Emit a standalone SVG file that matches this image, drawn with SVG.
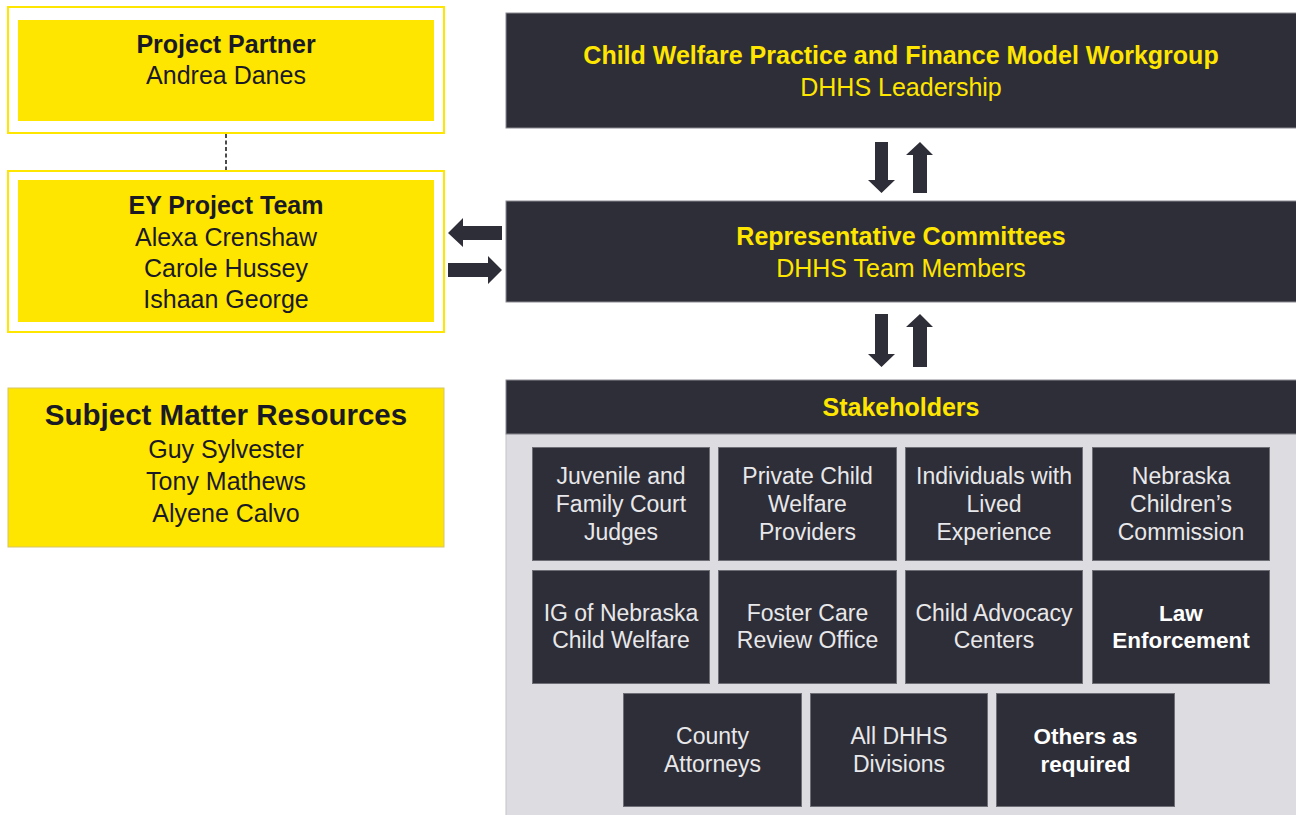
<svg xmlns="http://www.w3.org/2000/svg" width="1296" height="815" viewBox="0 0 1296 815">
  <style>
    text { font-family: "Liberation Sans", Arial, sans-serif; text-anchor: middle; }
    .outer { fill: #ffffff; stroke: #ffe600; stroke-width: 2; }
    .yellow { fill: #ffe600; }
    .dark { fill: #2e2e38; stroke: #8a8a92; stroke-width: 1; }
    .cell { fill: #2e2e38; stroke: #6e6e76; stroke-width: 1; }
    .panel { fill: #dcdce1; stroke: #c4c4ca; stroke-width: 1; }
    .t-dark-b { font-size: 25px; font-weight: bold; fill: #1a1a24; }
    .t-dark { font-size: 25px; fill: #1a1a24; }
    .t-yel-b { font-size: 25px; font-weight: bold; fill: #ffe600; }
    .t-yel { font-size: 25px; fill: #ffe600; }
    .t-cell { font-size: 23px; fill: #e8e8ea; }
    .t-cell-b { font-size: 22.5px; font-weight: bold; fill: #ffffff; }
    .arrow { fill: #2e2e38; }
  </style>

  <!-- Connectors -->
  <g id="connectors">
    <line x1="226" y1="134" x2="226" y2="170" stroke="#111111" stroke-width="1.5" stroke-dasharray="4,2.5"/>
    <!-- Workgroup <-> Committees -->
    <polygon class="arrow" points="875,142 888,142 888,180 895,180 881.5,193 868,180 875,180"/>
    <polygon class="arrow" points="913,193 927,193 927,155 933,155 920,142 906,155 913,155"/>
    <!-- Committees <-> Stakeholders -->
    <polygon class="arrow" points="875,314 888,314 888,354 895,354 881.5,367 868,354 875,354"/>
    <polygon class="arrow" points="913,367 927,367 927,327 933,327 920,314 906,327 913,327"/>
    <!-- Committees <-> EY Project Team -->
    <polygon class="arrow" points="502,226 502,240 463,240 463,247 448,233 463,218 463,226"/>
    <polygon class="arrow" points="448,263 488,263 488,256 502,270 488,284 488,277 448,277"/>
  </g>

  <!-- Left column -->
  <g id="project-partner">
    <rect class="outer" x="8" y="7" width="436" height="126"/>
    <rect class="yellow" x="18" y="20" width="416" height="101"/>
    <text class="t-dark-b" x="226" y="53">Project Partner</text>
    <text class="t-dark" x="226" y="84">Andrea Danes</text>
  </g>

  <g id="ey-project-team">
    <rect class="outer" x="8" y="171" width="436" height="161"/>
    <rect class="yellow" x="18" y="180" width="416" height="142"/>
    <text class="t-dark-b" x="226" y="214">EY Project Team</text>
    <text class="t-dark" x="226" y="246">Alexa Crenshaw</text>
    <text class="t-dark" x="226" y="277">Carole Hussey</text>
    <text class="t-dark" x="226" y="308">Ishaan George</text>
  </g>

  <g id="subject-matter-resources">
    <rect x="8" y="388" width="436" height="159" fill="#ffe600" stroke="#d6c36a" stroke-width="1"/>
    <text x="226" y="425" font-size="29.5" font-weight="bold" fill="#1a1a24">Subject Matter Resources</text>
    <text class="t-dark" x="226" y="458">Guy Sylvester</text>
    <text class="t-dark" x="226" y="490">Tony Mathews</text>
    <text class="t-dark" x="226" y="522">Alyene Calvo</text>
  </g>

  <!-- Right column -->
  <g id="workgroup">
    <rect class="dark" x="506" y="13" width="800" height="115"/>
    <text class="t-yel-b" x="901" y="64">Child Welfare Practice and Finance Model Workgroup</text>
    <text class="t-yel" x="901" y="96">DHHS Leadership</text>
  </g>

  <g id="committees">
    <rect class="dark" x="506" y="201" width="800" height="101"/>
    <text class="t-yel-b" x="901" y="245">Representative Committees</text>
    <text class="t-yel" x="901" y="277">DHHS Team Members</text>
  </g>

  <g id="stakeholders">
    <rect class="panel" x="506" y="434" width="800" height="390"/>
    <rect class="dark" x="506" y="380" width="800" height="54"/>
    <text class="t-yel-b" x="901" y="416">Stakeholders</text>
  </g>

  <g id="sh-juvenile-court">
    <rect class="cell" x="532.5" y="447.5" width="177" height="113"/>
    <text class="t-cell" x="621" y="484">Juvenile and</text>
    <text class="t-cell" x="621" y="512">Family Court</text>
    <text class="t-cell" x="621" y="540">Judges</text>
  </g>
  <g id="sh-private-providers">
    <rect class="cell" x="718.5" y="447.5" width="178" height="113"/>
    <text class="t-cell" x="807.5" y="484">Private Child</text>
    <text class="t-cell" x="807.5" y="512">Welfare</text>
    <text class="t-cell" x="807.5" y="540">Providers</text>
  </g>
  <g id="sh-lived-experience">
    <rect class="cell" x="905.5" y="447.5" width="177" height="113"/>
    <text class="t-cell" x="994" y="484">Individuals with</text>
    <text class="t-cell" x="994" y="512">Lived</text>
    <text class="t-cell" x="994" y="540">Experience</text>
  </g>
  <g id="sh-childrens-commission">
    <rect class="cell" x="1092.5" y="447.5" width="177" height="113"/>
    <text class="t-cell" x="1181" y="484">Nebraska</text>
    <text class="t-cell" x="1181" y="512">Children’s</text>
    <text class="t-cell" x="1181" y="540">Commission</text>
  </g>

  <g id="sh-inspector-general">
    <rect class="cell" x="532.5" y="570.5" width="177" height="113"/>
    <text class="t-cell" x="621" y="621">IG of Nebraska</text>
    <text class="t-cell" x="621" y="648">Child Welfare</text>
  </g>
  <g id="sh-foster-care-review">
    <rect class="cell" x="718.5" y="570.5" width="178" height="113"/>
    <text class="t-cell" x="807.5" y="621">Foster Care</text>
    <text class="t-cell" x="807.5" y="648">Review Office</text>
  </g>
  <g id="sh-child-advocacy">
    <rect class="cell" x="905.5" y="570.5" width="177" height="113"/>
    <text class="t-cell" x="994" y="621">Child Advocacy</text>
    <text class="t-cell" x="994" y="648">Centers</text>
  </g>
  <g id="sh-law-enforcement">
    <rect class="cell" x="1092.5" y="570.5" width="177" height="113"/>
    <text class="t-cell-b" x="1181" y="621">Law</text>
    <text class="t-cell-b" x="1181" y="648">Enforcement</text>
  </g>

  <g id="sh-county-attorneys">
    <rect class="cell" x="623.5" y="693.5" width="178" height="113"/>
    <text class="t-cell" x="712.5" y="744">County</text>
    <text class="t-cell" x="712.5" y="772">Attorneys</text>
  </g>
  <g id="sh-dhhs-divisions">
    <rect class="cell" x="810.5" y="693.5" width="177" height="113"/>
    <text class="t-cell" x="899" y="744">All DHHS</text>
    <text class="t-cell" x="899" y="772">Divisions</text>
  </g>
  <g id="sh-others">
    <rect class="cell" x="996.5" y="693.5" width="178" height="113"/>
    <text class="t-cell-b" x="1085.5" y="744">Others as</text>
    <text class="t-cell-b" x="1085.5" y="772">required</text>
  </g>
</svg>
